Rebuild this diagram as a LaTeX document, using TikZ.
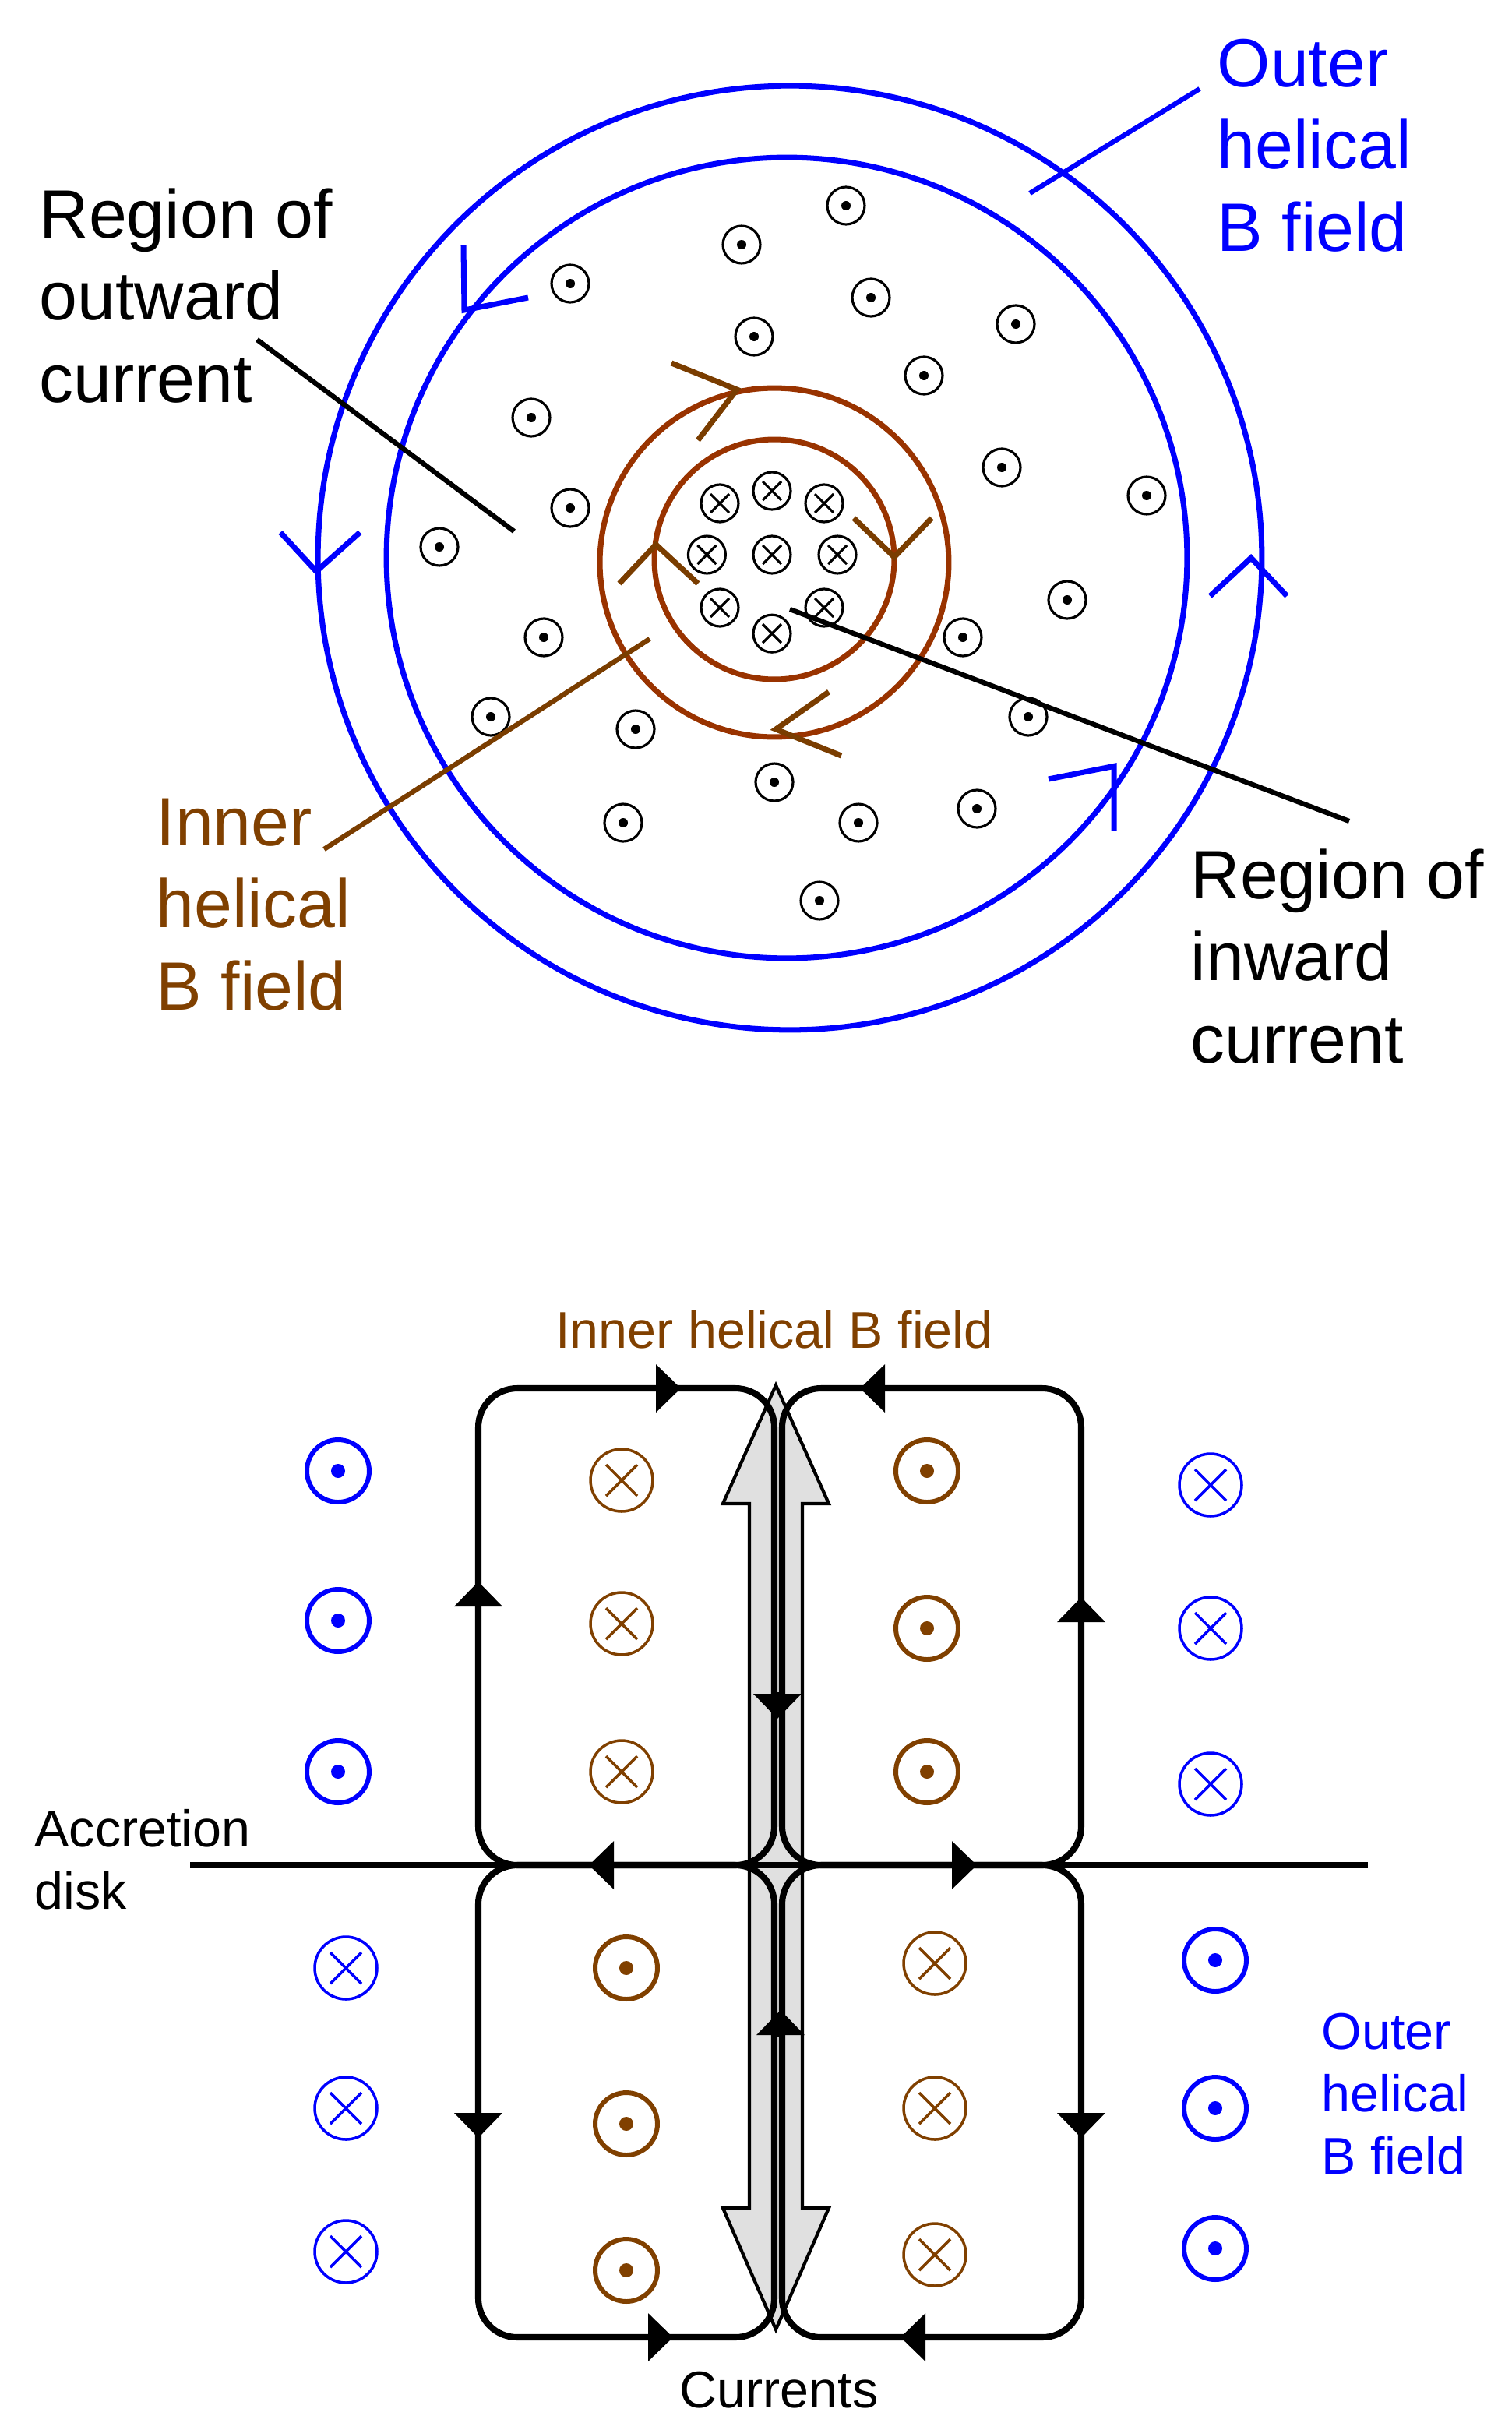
\documentclass[tikz,border=0pt]{standalone}
\usepackage{fontspec}
\setmainfont{Liberation Sans}
\usetikzlibrary{arrows.meta}
\definecolor{fieldblue}{RGB}{0,0,255}
\definecolor{ringbrown}{RGB}{153,51,0}
\definecolor{chevbrown}{RGB}{122,61,0}
\definecolor{textbrown}{RGB}{128,64,0}
\tikzset{
  bigtext/.style={font=\fontsize{25}{30}\selectfont, align=left, inner sep=0},
  smalltext/.style={font=\fontsize{18.9}{22.7}\selectfont, align=left, inner sep=0},
  ring/.style={line width=2pt},
  chev/.style={line width=2pt, line join=miter},
  leader/.style={line width=1.8pt},
  odot/.style={circle, draw, inner sep=0, minimum size=0.48cm, line width=0.9pt,
    path picture={\fill (path picture bounding box.center) circle (3);}},
  otimes/.style={circle, draw, inner sep=0, minimum size=0.48cm, line width=0.9pt,
    path picture={\draw ([shift={(-6,-6)}]path picture bounding box.center) -- ([shift={(6,6)}]path picture bounding box.center)
      ([shift={(-6,6)}]path picture bounding box.center) -- ([shift={(6,-6)}]path picture bounding box.center);}},
  bigdot/.style={circle, draw, inner sep=0, minimum size=0.8cm, line width=1.7pt,
    path picture={\fill (path picture bounding box.center) circle (4.5);}},
  bigcross/.style={circle, draw, inner sep=0, minimum size=0.8cm, line width=1pt,
    path picture={\draw ([shift={(-10,-10)}]path picture bounding box.center) -- ([shift={(10,10)}]path picture bounding box.center)
      ([shift={(-10,10)}]path picture bounding box.center) -- ([shift={(10,-10)}]path picture bounding box.center);}},
  cell/.style={line width=2.3pt, rounded corners=0.5cm},
  tip/.style={line width=2.3pt, -{Triangle[length=0.32cm,width=0.6cm]}},
  current/.style={draw, line width=1.2pt, fill=black!12},
}
\begin{document}
\begin{tikzpicture}[x=0.02cm,y=-0.02cm]
  \useasboundingbox (0,0) rectangle (970.5,1559.5);
  % cross section of the jet
  \node[circle, draw=fieldblue, ring, minimum size=12.12cm] (outer) at (507,358) {};
  \node[circle, draw=fieldblue, ring, minimum size=10.28cm] (inner) at (505,358) {};
  \node[circle, draw=ringbrown, ring, minimum size=4.48cm] (brout) at (497,361) {};
  \node[circle, draw=ringbrown, ring, minimum size=3.08cm] (brin) at (497,359) {};
  % field direction
  \draw[chev, fieldblue] (297.5,157.5) -- (298,199) -- (339,191);
  \draw[chev, fieldblue] (180,341.7) -- (203,366.7) -- (231,341.7);
  \draw[chev, fieldblue] (776.7,382.5) -- (803,358) -- (826,382.5);
  \draw[chev, fieldblue] (673,500) -- (715,491.7) -- (715,533);
  \draw[chev, chevbrown] (431,233) -- (473,250) -- (448,282.5);
  \draw[chev, chevbrown] (397.5,374.5) -- (421,349.5) -- (448,374.5);
  \draw[chev, chevbrown] (548,332.5) -- (574,357.5) -- (598,332.5);
  \draw[chev, chevbrown] (532,444) -- (498,468) -- (540,485);
  % currents
  \foreach \x/\y [count=\i] in {543/132,476/157,366/182,559/191,652/208,484/216,593/241,
      341/268,643/300,736/318,366/326,282/351,685/385,349/409,618/409,660/460,315/460,
      408/468,497/502,400/528,551/528,627/519,526/578}
    \node[odot] (out\i) at (\x,\y) {};
  \foreach \x/\y [count=\i] in {462/323,495.5/315,529/323,453.7/356,495.5/356,537.5/356,
      462/390,529/390,495.5/406.6}
    \node[otimes] (in\i) at (\x,\y) {};
  % labels (anchored at the last line)
  \node[bigtext, anchor=base west] (outlbl) at (25,258) {Region of\\outward\\current};
  \node[bigtext, anchor=base west, text=fieldblue] (bolbl) at (781,161) {Outer\\helical\\B field};
  \node[bigtext, anchor=base west, text=textbrown] (bilbl) at (100,648) {Inner\\helical\\B field};
  \node[bigtext, anchor=base west] (inlbl) at (764,682) {Region of\\inward\\current};
  \coordinate (c1) at (165,218); \coordinate (c2) at (330,341);
  \coordinate (c3) at (770,57); \coordinate (c4) at (661,124);
  \coordinate (c5) at (208,545); \coordinate (c6) at (417,410);
  \coordinate (c7) at (866,527); \coordinate (c8) at (507,391);
  \draw[leader] (c1) -- (c2);
  \draw[leader, fieldblue] (c3) -- (c4);
  \draw[leader, chevbrown] (c5) -- (c6);
  \draw[leader] (c7) -- (c8);

  % side view
  \draw[current] (498,889) -- (532,965) -- (515,965) -- (515,1417) -- (532,1417) -- (498,1495)
    -- (464,1417) -- (481,1417) -- (481,965) -- (464,965) -- cycle;
  \coordinate (dl) at (122,1197); \coordinate (dr) at (878,1197);
  \draw[line width=2.3pt] (dl) -- (dr);
  \draw[cell] (400,1197) -- (307,1197) -- (307,891) -- (497,891) -- (497,1197) -- cycle;
  \draw[cell] (600,1197) -- (502,1197) -- (502,891) -- (694,891) -- (694,1197) -- cycle;
  \draw[cell] (400,1197) -- (307,1197) -- (307,1500) -- (497,1500) -- (497,1197) -- cycle;
  \draw[cell] (600,1197) -- (502,1197) -- (502,1500) -- (694,1500) -- (694,1197) -- cycle;
  \draw[tip] (420,891) -- (437,891);
  \draw[tip] (569,891) -- (552,891);
  \draw[tip] (307,1032) -- (307,1015);
  \draw[tip] (694,1042) -- (694,1025);
  \draw[tip] (499,1086) -- (499,1103);
  \draw[tip] (501,1307) -- (501,1290);
  \draw[tip] (395,1197) -- (378,1197);
  \draw[tip] (610,1197) -- (627,1197);
  \draw[tip] (307,1355) -- (307,1372);
  \draw[tip] (694,1355) -- (694,1372);
  \draw[tip] (415,1500) -- (432,1500);
  \draw[tip] (595,1500) -- (578,1500);
  % field symbols
  \foreach \x/\y [count=\i] in {217/944,217/1040,217/1137,780/1258,780/1353,780/1443}
    \node[bigdot, fieldblue] (bd\i) at (\x,\y) {};
  \foreach \x/\y [count=\i] in {222/1263,222/1353,222/1445,777/953,777/1045,777/1145}
    \node[bigcross, fieldblue] (bc\i) at (\x,\y) {};
  \foreach \x/\y [count=\i] in {595/944,595/1045,595/1137,402/1263,402/1363,402/1457}
    \node[bigdot, textbrown] (rd\i) at (\x,\y) {};
  \foreach \x/\y [count=\i] in {399/950,399/1042,399/1137,600/1260,600/1353,600/1447}
    \node[bigcross, textbrown] (rc\i) at (\x,\y) {};
  \node[smalltext, anchor=base, text=textbrown] (ihlbl) at (497,865) {Inner helical B field};
  \node[smalltext, anchor=base west] (disklbl) at (22,1225) {Accretion\\disk};
  \node[smalltext, anchor=base west, text=fieldblue] (ohlbl) at (848,1395) {Outer\\helical\\B field};
  \node[smalltext, anchor=base] (curlbl) at (500,1545) {Currents};
\end{tikzpicture}
\end{document}
